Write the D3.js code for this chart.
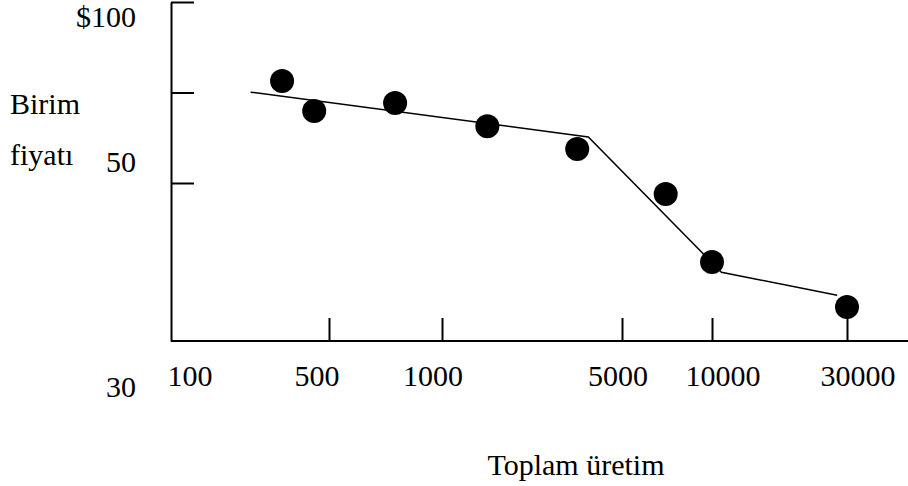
<!DOCTYPE html>
<html>
<head>
<meta charset="utf-8">
<script src="https://cdn.jsdelivr.net/npm/d3@7"></script>
<style>
    body { margin: 0; background: #fff; }
    svg text { font-family: "Liberation Serif", "Times New Roman", serif; font-size: 30px; fill: #000; }
    .axis line, .axis path { stroke: #000; stroke-width: 2px; }
</style>
</head>
<body>
<div class="chart"></div>
<script>
// production volume (x) and unit price (y)
const volumes = [310, 430, 750, 1500, 3350, 7000, 10000, 30000];
const prices = [78.2, 69.9, 72.1, 65.7, 59.4, 48.6, 40, 34.3];

// fitted piecewise trend
const trendVolumes = [225, 3700, 10800, 27700];
const trendPrices = [75.1, 62.7, 38.7, 35.8];

const xTicks = [500, 1000, 5000, 10000, 30000];
const xLabels = [100, 500, 1000, 5000, 10000, 30000];
const yTicks = [100, 75, 50];
const yLabels = [100, 50, 30];

const width = 908;
const height = 486;

const svg = d3.select(".chart").append("svg")
    .attr("width", width)
    .attr("height", height);

// the hand drawn axis is not evenly spaced, so the log scale is piecewise
const x = d3.scaleLog()
    .domain([100, 500, 1000, 5000, 10000, 30000])
    .range([171, 329, 442, 622, 712, 847]);

const y = d3.scaleLinear()
    .domain([30, 50, 100])
    .range([341, 183, 2]);

const xAxis = svg.append("g")
    .classed("axis", true)
    .attr("transform", "translate(0," + y(30) + ")")
    .call(d3.axisTop(x).tickValues(xTicks).tickSize(23).tickSizeOuter(0).tickFormat(""));

xAxis.select(".domain").remove();
xAxis.append("line")
    .attr("x1", x(100))
    .attr("x2", width)
    .attr("y1", 0)
    .attr("y2", 0);

svg.append("g")
    .classed("axis", true)
    .attr("transform", "translate(" + x(100) + ",0)")
    .call(d3.axisRight(y).tickValues(yTicks).tickSize(23).tickSizeOuter(0).tickFormat(""));

// labels sit a little off their ticks in the original
const xNudge = { 100: 19, 500: -12, 1000: -9, 5000: -4, 10000: 11, 30000: 11 };
const yNudge = { 100: 25, 50: -11, 30: 56 };

svg.append("g")
    .selectAll("text")
    .data(xLabels)
    .join("text")
    .attr("x", d => x(d) + xNudge[d])
    .attr("y", y(30) + 45)
    .style("text-anchor", "middle")
    .text(d => d);

svg.append("g")
    .selectAll("text")
    .data(yLabels)
    .join("text")
    .attr("x", x(100) - 35)
    .attr("y", d => y(d) + yNudge[d])
    .style("text-anchor", "end")
    .text(d => d === 100 ? "$100" : d);

svg.append("text")
    .attr("x", 10)
    .attr("y", 114)
    .text("Birim");

svg.append("text")
    .attr("x", 10)
    .attr("y", 165)
    .text("fiyatı");

svg.append("text")
    .attr("x", 576)
    .attr("y", 475)
    .style("text-anchor", "middle")
    .text("Toplam üretim");

const line = d3.line()
    .x(d => x(d[0]))
    .y(d => y(d[1]));

svg.append("path")
    .datum(d3.zip(trendVolumes, trendPrices))
    .attr("fill", "none")
    .attr("stroke", "#000")
    .attr("stroke-width", 1.5)
    .attr("d", line);

svg.append("g")
    .selectAll("circle")
    .data(d3.zip(volumes, prices))
    .join("circle")
    .attr("cx", d => x(d[0]))
    .attr("cy", d => y(d[1]))
    .attr("r", 12)
    .style("fill", "#000");
</script>
</body>
</html>
